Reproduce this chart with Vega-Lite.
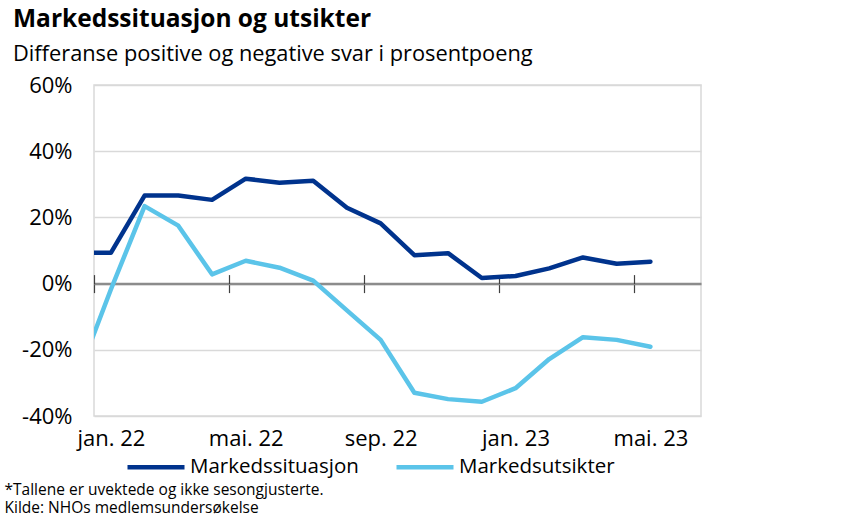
{
  "$schema": "https://vega.github.io/schema/vega-lite/v6.json",
  "width": 607,
  "height": 331,
  "autosize": {"type": "none"},
  "padding": {"left": 94, "top": 85, "right": 152, "bottom": 105},
  "background": "white",
  "config": {
    "font": "Open Sans",
    "view": {"stroke": "#d9d9d9", "strokeWidth": 1.5}
  },
  "title": {
    "text": "Markedssituasjon  og utsikter",
    "subtitle": "Differanse positive og negative svar i prosentpoeng",
    "anchor": "start",
    "frame": "group",
    "dx": -81,
    "offset": 7,
    "font": "Open Sans",
    "fontSize": 24.5,
    "fontWeight": "bold",
    "color": "#000000",
    "subtitleFont": "Open Sans",
    "subtitleFontSize": 21.8,
    "subtitleColor": "#000000",
    "subtitlePadding": 12
  },
  "data": {
    "values": [
      {"m": -1, "month": "des. 21", "s": "Markedssituasjon", "v": 9.3},
      {"m": 0, "month": "jan. 22", "s": "Markedssituasjon", "v": 9.3},
      {"m": 1, "month": "feb. 22", "s": "Markedssituasjon", "v": 26.6},
      {"m": 2, "month": "mar. 22", "s": "Markedssituasjon", "v": 26.6},
      {"m": 3, "month": "apr. 22", "s": "Markedssituasjon", "v": 25.3},
      {"m": 4, "month": "mai. 22", "s": "Markedssituasjon", "v": 31.7},
      {"m": 5, "month": "jun. 22", "s": "Markedssituasjon", "v": 30.5},
      {"m": 6, "month": "jul. 22", "s": "Markedssituasjon", "v": 31.1},
      {"m": 7, "month": "aug. 22", "s": "Markedssituasjon", "v": 22.9},
      {"m": 8, "month": "sep. 22", "s": "Markedssituasjon", "v": 18.2},
      {"m": 9, "month": "okt. 22", "s": "Markedssituasjon", "v": 8.6},
      {"m": 10, "month": "nov. 22", "s": "Markedssituasjon", "v": 9.2},
      {"m": 11, "month": "des. 22", "s": "Markedssituasjon", "v": 1.7},
      {"m": 12, "month": "jan. 23", "s": "Markedssituasjon", "v": 2.3},
      {"m": 13, "month": "feb. 23", "s": "Markedssituasjon", "v": 4.6},
      {"m": 14, "month": "mar. 23", "s": "Markedssituasjon", "v": 7.9},
      {"m": 15, "month": "apr. 23", "s": "Markedssituasjon", "v": 6.0},
      {"m": 16, "month": "mai. 23", "s": "Markedssituasjon", "v": 6.6},
      {"m": -1, "month": "des. 21", "s": "Markedsutsikter", "v": -28.5},
      {"m": 0, "month": "jan. 22", "s": "Markedsutsikter", "v": -1.8},
      {"m": 1, "month": "feb. 22", "s": "Markedsutsikter", "v": 23.4},
      {"m": 2, "month": "mar. 22", "s": "Markedsutsikter", "v": 17.5},
      {"m": 3, "month": "apr. 22", "s": "Markedsutsikter", "v": 2.8},
      {"m": 4, "month": "mai. 22", "s": "Markedsutsikter", "v": 6.9},
      {"m": 5, "month": "jun. 22", "s": "Markedsutsikter", "v": 4.8},
      {"m": 6, "month": "jul. 22", "s": "Markedsutsikter", "v": 0.9},
      {"m": 7, "month": "aug. 22", "s": "Markedsutsikter", "v": -8.1},
      {"m": 8, "month": "sep. 22", "s": "Markedsutsikter", "v": -17.0},
      {"m": 9, "month": "okt. 22", "s": "Markedsutsikter", "v": -33.0},
      {"m": 10, "month": "nov. 22", "s": "Markedsutsikter", "v": -34.9},
      {"m": 11, "month": "des. 22", "s": "Markedsutsikter", "v": -35.7},
      {"m": 12, "month": "jan. 23", "s": "Markedsutsikter", "v": -31.6},
      {"m": 13, "month": "feb. 23", "s": "Markedsutsikter", "v": -22.8},
      {"m": 14, "month": "mar. 23", "s": "Markedsutsikter", "v": -16.2},
      {"m": 15, "month": "apr. 23", "s": "Markedsutsikter", "v": -17.0},
      {"m": 16, "month": "mai. 23", "s": "Markedsutsikter", "v": -19.1}
    ]
  },
  "encoding": {
    "y": {
      "field": "v",
      "type": "quantitative",
      "scale": {"domain": [-40, 60], "nice": false, "zero": false},
      "axis": {
        "title": null,
        "values": [-40, -20, 0, 20, 40, 60],
        "labelExpr": "datum.value + '%'",
        "labelFont": "Open Sans",
        "labelFontSize": 22,
        "labelColor": "#000000",
        "labelPadding": 22,
        "ticks": false,
        "domain": false,
        "grid": true,
        "gridColor": "#d9d9d9",
        "gridWidth": 1.5
      }
    }
  },
  "layer": [
    {
      "mark": {"type": "line", "opacity": 0, "clip": true},
      "encoding": {
        "detail": {"field": "s"},
        "x": {
          "field": "m",
          "type": "quantitative",
          "scale": {"domain": [-0.5, 17.5], "nice": false, "zero": false},
          "axis": {
            "orient": "bottom",
            "offset": -132.4,
            "title": null,
            "values": [-0.5, 3.5, 7.5, 11.5, 15.5],
            "labels": false,
            "grid": false,
            "domain": true,
            "domainColor": "#8c8c8c",
            "domainWidth": 2.5,
            "ticks": true,
            "tickSize": 9,
            "tickColor": "#404040",
            "tickWidth": 1.2
          }
        }
      }
    },
    {
      "mark": {"type": "line", "opacity": 0, "clip": true},
      "encoding": {
        "detail": {"field": "s"},
        "x": {
          "field": "m",
          "type": "quantitative",
          "scale": {"domain": [-0.5, 17.5], "nice": false, "zero": false},
          "axis": {
            "orient": "top",
            "offset": -198.6,
            "title": null,
            "values": [-0.5, 3.5, 7.5, 11.5, 15.5],
            "labels": false,
            "grid": false,
            "domain": false,
            "ticks": true,
            "tickSize": 9,
            "tickColor": "#404040",
            "tickWidth": 1.2
          }
        }
      }
    },
    {
      "mark": {"type": "line", "strokeWidth": 4.5, "strokeJoin": "round", "strokeCap": "round", "clip": true},
      "encoding": {
        "x": {
          "field": "m",
          "type": "quantitative",
          "scale": {"domain": [-0.5, 17.5], "nice": false, "zero": false},
          "axis": {
            "orient": "bottom",
            "values": [0, 4, 8, 12, 16],
            "labelExpr": "datum.value == 0 ? 'jan. 22' : datum.value == 4 ? 'mai. 22' : datum.value == 8 ? 'sep. 22' : datum.value == 12 ? 'jan. 23' : 'mai. 23'",
            "labelFont": "Open Sans",
            "labelFontSize": 22,
            "labelColor": "#000000",
            "labelPadding": 12,
            "labelFlush": false,
            "labelOverlap": false,
            "ticks": false,
            "domain": false,
            "grid": false,
            "title": ["*Tallene er uvektede og ikke sesongjusterte.", "Kilde: NHOs medlemsundersøkelse"],
            "titleX": -90,
            "titleY": 66,
            "titleAlign": "left",
            "titleBaseline": "top",
            "titleAngle": 0,
            "titleFont": "Open Sans",
            "titleFontSize": 15.5,
            "titleFontWeight": "normal",
            "titleColor": "#000000",
            "titleLineHeight": 18
          }
        },
        "color": {
          "field": "s",
          "type": "nominal",
          "scale": {"domain": ["Markedssituasjon", "Markedsutsikter"], "range": ["#00338d", "#5bc4e9"]},
          "legend": {
            "title": null,
            "orient": "none",
            "legendX": 31,
            "legendY": 351,
            "direction": "horizontal",
            "symbolType": "stroke",
            "symbolSize": 3249,
            "symbolStrokeWidth": 4.5,
            "labelFont": "Open Sans",
            "labelFontSize": 20.5,
            "labelColor": "#000000",
            "labelLimit": 0,
            "labelOffset": 3,
            "columnPadding": 28
          }
        }
      }
    }
  ],
  "resolve": {"axis": {"x": "independent"}}
}
